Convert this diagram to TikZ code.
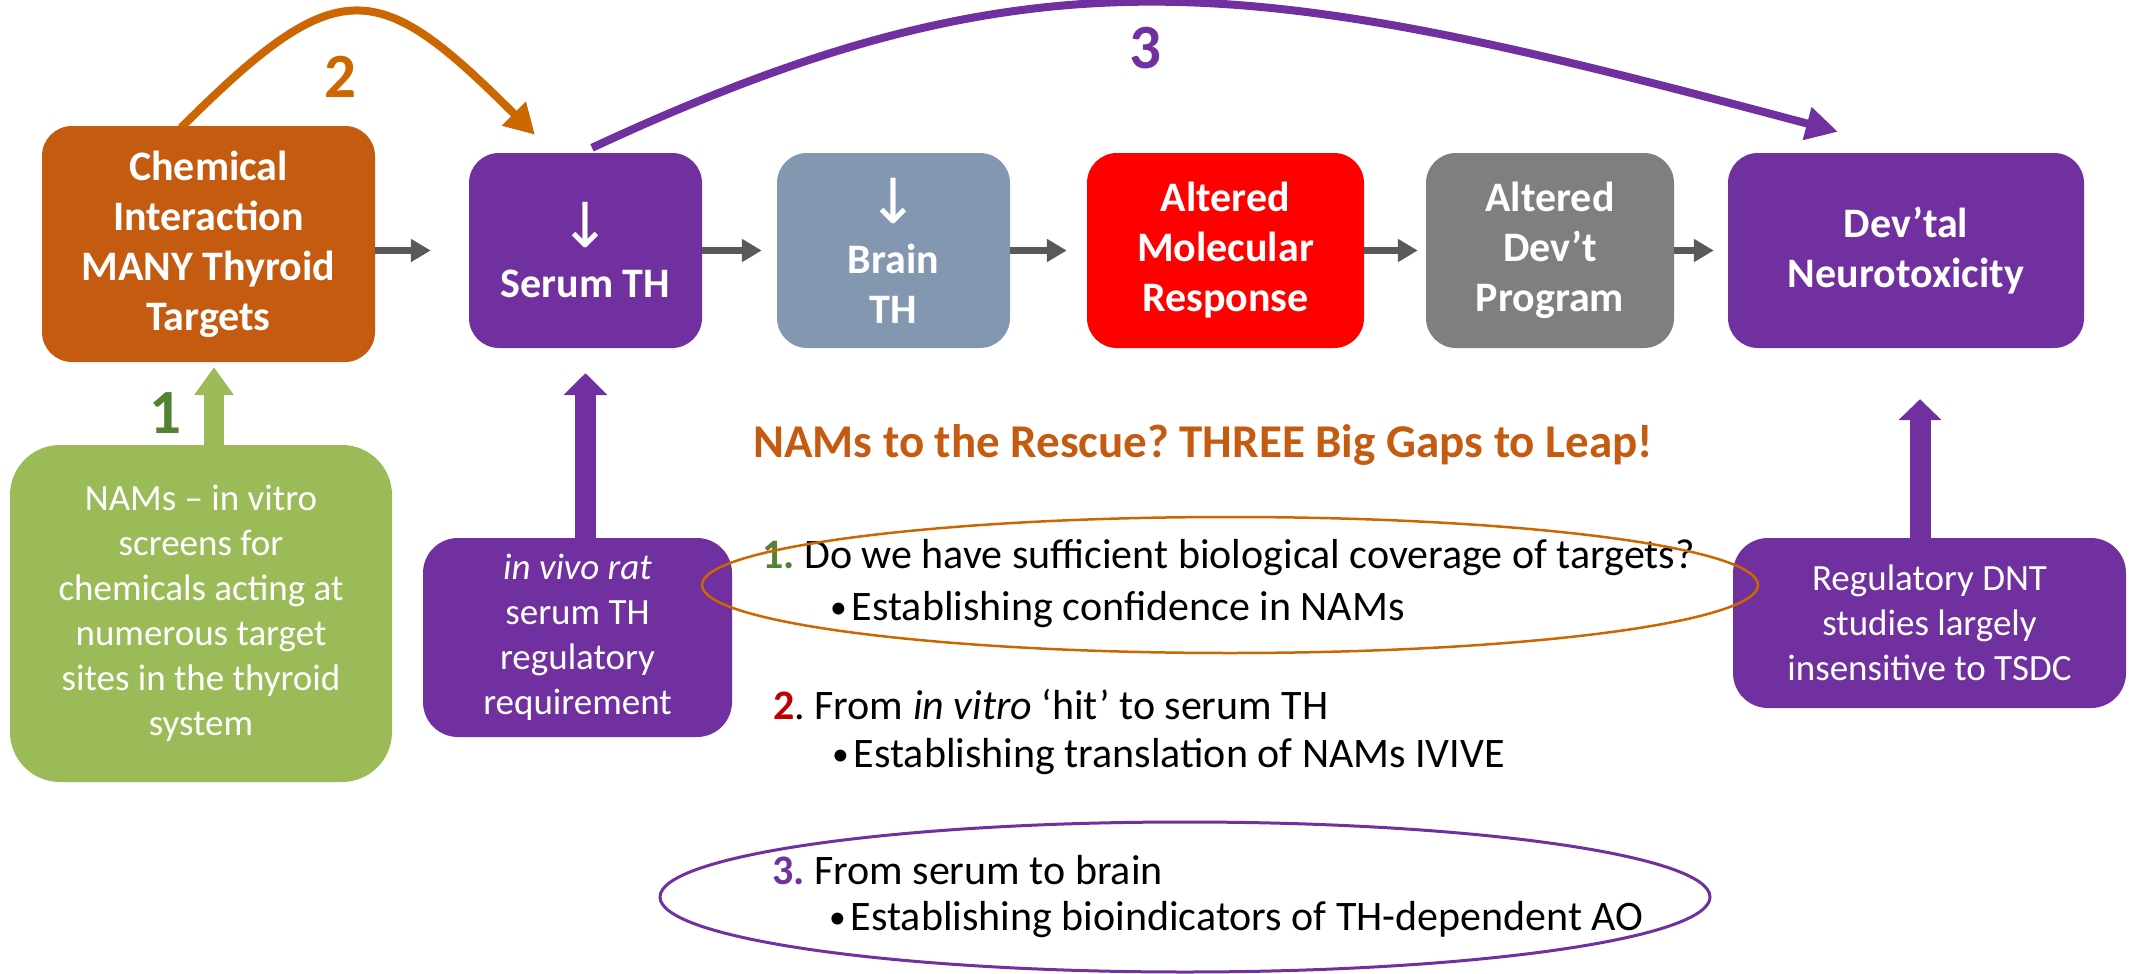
\documentclass[tikz,border=0pt]{standalone}
\usepackage{fontspec}
\setmainfont{Carlito}
\newfontfamily\arrowfont{DejaVu Sans}
\usetikzlibrary{arrows.meta,calc}
\definecolor{corange}{HTML}{C55A11}
\definecolor{carc}{HTML}{CC6600}
\definecolor{cpurple}{HTML}{7030A0}
\definecolor{cslate}{HTML}{8497B0}
\definecolor{cred}{HTML}{FF0000}
\definecolor{cgray}{HTML}{7F7F7F}
\definecolor{cgreen}{HTML}{9BBB59}
\definecolor{cdkgreen}{HTML}{548235}
\definecolor{cdkred}{HTML}{C00000}
\definecolor{carrow}{HTML}{595959}
\newcommand{\dnsym}{{\arrowfont\mdseries\fontsize{62}{50}\selectfont ↓}}
\frenchspacing
\begin{document}
\begin{tikzpicture}[x=1pt,y=-1pt,
  mainbox/.style={rounded corners=30pt, text=white, align=center, inner sep=0pt,
    font=\fontsize{42}{50}\selectfont\bfseries, minimum height=195pt},
  notebox/.style={rounded corners=35pt, text=white, align=center, inner sep=0pt,
    font=\fontsize{37}{45}\selectfont},
  flow/.style={draw=carrow, line width=7pt, -{Triangle[length=20pt,width=22pt]}},
  bignum/.style={font=\fontsize{63}{63}\selectfont\bfseries, inner sep=0pt},
  gaptext/.style={anchor=west, inner sep=0pt, font=\fontsize{42}{50}\selectfont, text=black}
]
\useasboundingbox (0,0) rectangle (2134,974);

% main chain
\node[mainbox, fill=corange, minimum width=333pt, minimum height=236pt] (chem) at (208.5,244)
  {Chemical\\Interaction\\MANY Thyroid\\Targets};
\node[mainbox, fill=cpurple, minimum width=233pt] (serum) at (585.5,250.5)
  {\dnsym\\Serum TH};
\node[mainbox, fill=cslate, minimum width=233pt] (brain) at (893.5,250.5)
  {\dnsym\\Brain\\TH};
\node[mainbox, fill=cred, minimum width=277pt] (mol) at (1225.5,250.5)
  {Altered\\Molecular\\Response};
\node[mainbox, fill=cgray, minimum width=248pt] (prog) at (1550,250.5)
  {Altered\\Dev’t\\Program};
\node[mainbox, fill=cpurple, minimum width=356pt] (dnt) at (1906,250.5)
  {Dev’tal\\Neurotoxicity};

% lower boxes
\node[notebox, rounded corners=50pt, fill=cgreen, minimum width=382pt, minimum height=337pt] (nams) at (201,613.5)
  {NAMs – in vitro\\screens for\\chemicals acting at\\numerous target\\sites in the thyroid\\system};
\node[notebox, fill=cpurple, minimum width=309pt, minimum height=199pt] (rat) at (577.5,637.5)
  {\textit{in vivo rat}\\serum TH\\regulatory\\requirement};
\node[notebox, fill=cpurple, minimum width=393pt, minimum height=170pt] (reg) at (1929.5,623)
  {Regulatory DNT\\studies largely\\insensitive to TSDC};

% flow arrows
\draw[flow] (chem.east |- serum.west) -- ([xshift=-38pt]serum.west);
\draw[flow] (serum.east) -- ([xshift=-15pt]brain.west);
\draw[flow] (brain.east) -- ([xshift=-20pt]mol.west);
\draw[flow] (mol.east) -- ([xshift=-8pt]prog.west);
\draw[flow] (prog.east) -- ([xshift=-14pt]dnt.west);

% up arrows
\draw[draw=cgreen, line width=20pt, -{Triangle[length=28pt,width=38pt]}]
  ([xshift=13pt]nams.north) -- ([xshift=5.5pt,yshift=-5pt]chem.south);
\draw[draw=cpurple, line width=21pt, -{Triangle[length=22pt,width=43pt]}]
  (rat.north -| serum.south) -- ([yshift=-25pt]serum.south);
\draw[draw=cpurple, line width=21pt, -{Triangle[length=21pt,width=42pt]}]
  ([xshift=-9.5pt]reg.north) -- ([xshift=14pt,yshift=-51pt]dnt.south);

% arcs
\coordinate (a2s) at ([xshift=-27.5pt,yshift=-2pt]chem.north);
\coordinate (a2e) at ([xshift=-50.5pt,yshift=18pt]serum.north);
\draw[carc, line width=8pt, -{Triangle[length=30pt,width=32pt]}]
  (a2s) .. controls (339,-30) and (377,-23) .. (a2e);
\coordinate (a3s) at ([xshift=6.5pt,yshift=5pt]serum.north);
\coordinate (a3e) at ([xshift=-68pt,yshift=21pt]dnt.north);
\draw[cpurple, line width=8pt, -{Triangle[length=32pt,width=32pt]}]
  (a3s) .. controls (1045,-63) and (1258,-23) .. (a3e);

% gap numbers
\node[bignum, text=cdkgreen] (g1) at (165,413) {1};
\node[bignum, text=carc] (g2) at (340,77) {2};
\node[bignum, text=cpurple] (g3) at (1145,48) {3};

% title
\node[anchor=west, inner sep=0pt, font=\fontsize{47}{56}\selectfont\bfseries, text=corange] (title) at (753,445)
  {NAMs to the Rescue? THREE Big Gaps to Leap!};

% gap texts
\node[gaptext] (q1) at (762,558) {\textcolor{cdkgreen}{\bfseries 1.} Do we have sufficient biological coverage of targets?};
\node[gaptext] (b1) at (830,610) {\raisebox{0.1ex}{\scalebox{0.8}{•}}\hspace{5pt}Establishing confidence in NAMs};
\node[gaptext] (q2) at (773,705) {\textcolor{cdkred}{\bfseries 2}. From \textit{in vitro} ‘hit’ to serum TH};
\node[gaptext] (b2) at (832,757) {\raisebox{0.1ex}{\scalebox{0.8}{•}}\hspace{5pt}Establishing translation of NAMs IVIVE};
\node[gaptext] (q3) at (772,870) {\textcolor{cpurple}{\bfseries 3.} From serum to brain};
\node[gaptext] (b3) at (829,920) {\raisebox{0.1ex}{\scalebox{0.8}{•}}\hspace{5pt}Establishing bioindicators of TH-dependent AO};

% ellipses
\draw[carc, line width=2.5pt] (1230,585) ellipse [x radius=528pt, y radius=68pt];
\draw[cpurple, line width=3pt] (1185,897) ellipse [x radius=525pt, y radius=75pt];
\end{tikzpicture}
\end{document}
